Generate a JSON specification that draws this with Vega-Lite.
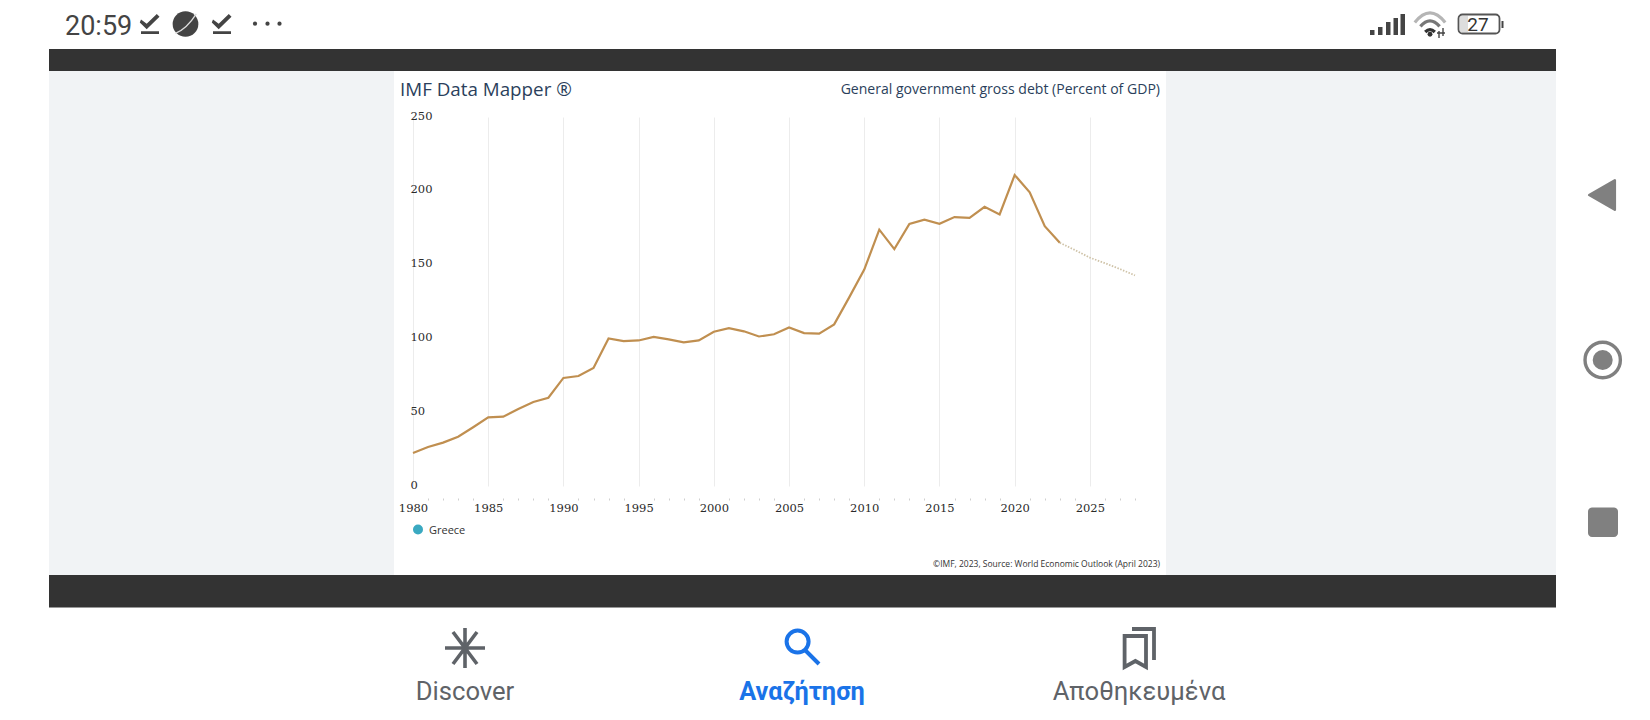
{
"$schema":"https://vega.github.io/schema/vega-lite/v6.json",
"width":722,"height":369,
"autosize":{"type":"none"},
"padding":{"left":413,"top":117,"right":515,"bottom":234},
"background":"#ffffff",
"config":{"view":{"stroke":null}},
"datasets":{
"debt":[
{"year":1980,"debt":22.4},{"year":1981,"debt":26.4},{"year":1982,"debt":29.4},{"year":1983,"debt":33.4},{"year":1984,"debt":39.8},
{"year":1985,"debt":46.5},{"year":1986,"debt":47},{"year":1987,"debt":52.2},{"year":1988,"debt":56.9},{"year":1989,"debt":59.8},
{"year":1990,"debt":73.2},{"year":1991,"debt":74.5},{"year":1992,"debt":80},{"year":1993,"debt":100},{"year":1994,"debt":98.2},
{"year":1995,"debt":98.6},{"year":1996,"debt":101},{"year":1997,"debt":99.3},{"year":1998,"debt":97.3},{"year":1999,"debt":98.6},
{"year":2000,"debt":104.5},{"year":2001,"debt":107},{"year":2002,"debt":104.8},{"year":2003,"debt":101.3},{"year":2004,"debt":102.8},
{"year":2005,"debt":107.4},{"year":2006,"debt":103.6},{"year":2007,"debt":103.2},{"year":2008,"debt":109.5},{"year":2009,"debt":127.8},
{"year":2010,"debt":146.6},{"year":2011,"debt":173.7},{"year":2012,"debt":160.5},{"year":2013,"debt":177.5},{"year":2014,"debt":180.4},
{"year":2015,"debt":177.7},{"year":2016,"debt":182.2},{"year":2017,"debt":181.7},{"year":2018,"debt":189.2},{"year":2019,"debt":184},
{"year":2020,"debt":210.7},{"year":2021,"debt":199},{"year":2022,"debt":176},{"year":2023,"debt":164.8}
],
"projection":[
{"year":2023,"debt":164.8},{"year":2024,"debt":159.9},{"year":2025,"debt":154.7},{"year":2026,"debt":151},{"year":2027,"debt":147},{"year":2028,"debt":142.7}
]},
"resolve":{"scale":{"x":"independent","y":"independent"}},
"layer":[
{
"encoding":{
"x":{"field":"sx","type":"quantitative","axis":null,"scale":{"domain":[0,1650],"range":[-413,1237],"nice":false,"zero":false}},
"y":{"field":"sy","type":"quantitative","axis":null,"scale":{"domain":[0,720],"range":[-117,603],"nice":false,"zero":false}}
},
"layer":[
{"data":{"values":[{"sx":49,"sx2":1556,"sy":49,"sy2":71},{"sx":49,"sx2":1556,"sy":575,"sy2":607.5}]},"mark":{"type":"rect","fill":"#333333"},"encoding":{"x2":{"field":"sx2"},"y2":{"field":"sy2"}}},
{"data":{"values":[{"sx":49,"sx2":394,"sy":71,"sy2":575},{"sx":1166,"sx2":1556,"sy":71,"sy2":575}]},"mark":{"type":"rect","fill":"#f1f3f5"},"encoding":{"x2":{"field":"sx2"},"y2":{"field":"sy2"}}},
{"data":{"values":[{"sx":1370,"sx2":1374.5,"sy":30,"sy2":35},{"sx":1378,"sx2":1382.5,"sy":27,"sy2":35},{"sx":1386,"sx2":1390.5,"sy":22,"sy2":35},{"sx":1393.5,"sx2":1398,"sy":18,"sy2":35},{"sx":1400.5,"sx2":1405,"sy":14,"sy2":35},{"sx":1501.5,"sx2":1503.5,"sy":21,"sy2":28}]},"mark":{"type":"rect","fill":"#444444"},"encoding":{"x2":{"field":"sx2"},"y2":{"field":"sy2"}}},
{"data":{"values":[{"sx":1460,"sx2":1468,"sy":16,"sy2":32}]},"mark":{"type":"rect","fill":"#dddddd"},"encoding":{"x2":{"field":"sx2"},"y2":{"field":"sy2"}}},
{"data":{"values":[{"sx":1458.5,"sx2":1499.5,"sy":14.5,"sy2":33.5}]},"mark":{"type":"rect","fill":null,"stroke":"#555555","strokeWidth":1.8,"cornerRadius":4},"encoding":{"x2":{"field":"sx2"},"y2":{"field":"sy2"}}},
{"data":{"values":[{"sx":1588,"sx2":1618,"sy":507.5,"sy2":537}]},"mark":{"type":"rect","fill":"#808080","cornerRadius":4},"encoding":{"x2":{"field":"sx2"},"y2":{"field":"sy2"}}},

{"data":{"values":[{"sx":150,"sy":24},{"sx":222,"sy":24}]},"mark":{"type":"point","filled":true,"fill":"#444444","stroke":null,"opacity":1,"size":400,"shape":"M-0.9,-0.45 L-0.33,-0.02 L0.68,-1 L0.95,-0.72 L-0.33,0.52 L-1.02,-0.15 Z M-0.9,0.72 H0.9 V1 H-0.9 Z"}},
{"data":{"values":[{"sx":185.5,"sy":24}]},"mark":{"type":"point","filled":true,"fill":"#444444","stroke":null,"opacity":1,"size":660}},
{"data":{"values":[{"sx":185.5,"sy":24}]},"mark":{"type":"point","filled":false,"stroke":"#dddddd","strokeWidth":1.3,"opacity":1,"size":729,"shape":"M-0.75,0.7 Q0.1,0.35 0.8,-0.75"}},
{"data":{"values":[{"sx":255,"sy":23.7},{"sx":267.5,"sy":23.7},{"sx":279.5,"sy":23.7}]},"mark":{"type":"point","filled":true,"fill":"#444444","stroke":null,"opacity":1,"size":18}},

{"data":{"values":[{"sx":1430,"sy":24}]},"mark":{"type":"point","filled":false,"stroke":"#b5b5b5","strokeWidth":3.2,"opacity":1,"size":1024,"shape":"M-0.95,-0.1 Q0,-1.3 0.95,-0.1"}},
{"data":{"values":[{"sx":1430,"sy":24}]},"mark":{"type":"point","filled":false,"stroke":"#777777","strokeWidth":3.2,"opacity":1,"size":1024,"shape":"M-0.6,0.15 Q0,-0.55 0.6,0.15"}},
{"data":{"values":[{"sx":1430,"sy":24}]},"mark":{"type":"point","filled":false,"stroke":"#333333","strokeWidth":3.2,"opacity":1,"size":1024,"shape":"M-0.3,0.5 Q0,0.2 0.3,0.5"}},
{"data":{"values":[{"sx":1430,"sy":34.3}]},"mark":{"type":"point","filled":true,"fill":"#333333","stroke":null,"opacity":1,"size":24}},
{"data":{"values":[{"sx":1441,"sy":33}]},"mark":{"type":"point","filled":false,"stroke":"#444444","strokeWidth":1.4,"opacity":1,"size":100,"shape":"M-0.4,1 V-0.4 M-0.8,0 H0 M0.4,-1 V0.6 M0,0 H0.8"}},

{"data":{"values":[{"sx":1602,"sy":195}]},"mark":{"type":"point","filled":true,"fill":"#808080","stroke":"#808080","strokeWidth":2.5,"strokeJoin":"round","opacity":1,"size":870,"shape":"M-0.87,0 L0.87,-1 V1 Z"}},
{"data":{"values":[{"sx":1602.7,"sy":360}]},"mark":{"type":"point","filled":false,"stroke":"#808080","strokeWidth":3.4,"opacity":1,"size":1250}},
{"data":{"values":[{"sx":1602.7,"sy":360}]},"mark":{"type":"point","filled":true,"fill":"#808080","stroke":null,"opacity":1,"size":400}},

{"data":{"values":[{"sx":465,"sy":648}]},"mark":{"type":"point","filled":false,"stroke":"#5f6368","strokeWidth":3.6,"opacity":1,"size":1600,"shape":"M0,-1 V1 M-1,0 H1 M-0.6,-0.8 L0.6,0.8 M0.6,-0.8 L-0.6,0.8"}},
{"data":{"values":[{"sx":801,"sy":647}]},"mark":{"type":"point","filled":false,"stroke":"#1a73e8","strokeWidth":4,"opacity":1,"size":1600,"shape":"M0.38,-0.27 A0.55,0.55 0 1 1 -0.72,-0.27 A0.55,0.55 0 1 1 0.38,-0.27 M0.2,0.15 L0.9,0.85"}},
{"data":{"values":[{"sx":1139,"sy":648}]},"mark":{"type":"point","filled":false,"stroke":"#5f6368","strokeWidth":3.8,"opacity":1,"size":1600,"shape":"M-0.72,-0.6 H0.35 V0.95 L-0.18,0.65 L-0.72,0.95 Z M-0.35,-0.95 H0.75 V0.6"}},

{"data":{"values":[{"sx":418,"sy":529.5}]},"mark":{"type":"point","filled":true,"fill":"#3aa9c1","stroke":null,"opacity":1,"size":100}},

{"data":{"values":[{"sx":65,"sy":35,"label":"20:59"}]},"mark":{"type":"text","font":"Roboto","fontSize":27,"align":"left","baseline":"alphabetic","fill":"#444444"},"encoding":{"text":{"field":"label"}}},
{"data":{"values":[{"sx":1478,"sy":31,"label":"27"}]},"mark":{"type":"text","font":"Roboto","fontSize":19,"align":"center","baseline":"alphabetic","fill":"#333333"},"encoding":{"text":{"field":"label"}}},
{"data":{"values":[{"sx":400,"sy":96,"label":"IMF Data Mapper ®"}]},"mark":{"type":"text","font":"Open Sans","fontSize":18.8,"align":"left","baseline":"alphabetic","fill":"#2b3f5c"},"encoding":{"text":{"field":"label"}}},
{"data":{"values":[{"sx":1160,"sy":94,"label":"General government gross debt (Percent of GDP)"}]},"mark":{"type":"text","font":"Open Sans","fontSize":14.05,"align":"right","baseline":"alphabetic","fill":"#2b3f5c"},"encoding":{"text":{"field":"label"}}},
{"data":{"values":[{"sx":429,"sy":534,"label":"Greece"}]},"mark":{"type":"text","font":"Open Sans","fontSize":11,"align":"left","baseline":"alphabetic","fill":"#333333"},"encoding":{"text":{"field":"label"}}},
{"data":{"values":[{"sx":1160,"sy":567,"label":"©IMF, 2023, Source: World Economic Outlook (April 2023)"}]},"mark":{"type":"text","font":"Open Sans","fontSize":8.5,"align":"right","baseline":"alphabetic","fill":"#333333"},"encoding":{"text":{"field":"label"}}},
{"data":{"values":[{"sx":465,"sy":700,"label":"Discover"},{"sx":1139,"sy":700,"label":"Αποθηκευμένα"}]},"mark":{"type":"text","font":"Roboto","fontSize":25.6,"align":"center","baseline":"alphabetic","fill":"#5f6368"},"encoding":{"text":{"field":"label"}}},
{"data":{"values":[{"sx":802,"sy":700,"label":"Αναζήτηση"}]},"mark":{"type":"text","font":"Roboto","fontSize":25.3,"fontWeight":"bold","align":"center","baseline":"alphabetic","fill":"#1a73e8"},"encoding":{"text":{"field":"label"}}}
]
},
{
"encoding":{
"x":{"field":"year","type":"quantitative","title":null,"scale":{"domain":[1980,2028],"nice":false,"zero":false},
"axis":{"orient":"bottom","offset":12,"domain":false,"values":[1980,1981,1982,1983,1984,1985,1986,1987,1988,1989,1990,1991,1992,1993,1994,1995,1996,1997,1998,1999,2000,2001,2002,2003,2004,2005,2006,2007,2008,2009,2010,2011,2012,2013,2014,2015,2016,2017,2018,2019,2020,2021,2022,2023,2024,2025,2026,2027,2028],
"labelExpr":"datum.value % 5 === 0 ? '' + datum.value : ''","labelOverlap":false,"labelFlush":false,"labelBound":false,"labelFont":"DejaVu Serif","labelFontSize":11.5,"labelColor":"#2a2a2a","labelPadding":2,"labelBaseline":"top",
"tickSize":2,"tickWidth":1,"tickColor":{"condition":{"test":"datum.value % 5 === 0","value":"transparent"},"value":"#cfcfcf"},
"grid":true,"gridWidth":1,"gridColor":{"condition":{"test":"datum.value % 5 === 0","value":"#ececec"},"value":"transparent"}}},
"y":{"field":"debt","type":"quantitative","title":null,"scale":{"domain":[0,250],"nice":false,"zero":false},
"axis":{"orient":"left","values":[0,50,100,150,200,250],"domain":false,"ticks":false,"grid":false,"labelAlign":"left","labelPadding":3,"labelOffset":-1,"labelFont":"DejaVu Serif","labelFontSize":11.5,"labelColor":"#2a2a2a","labelBound":false,"labelFlush":false}}
},
"layer":[
{"data":{"name":"debt"},"mark":{"type":"line","stroke":"#c08f50","strokeWidth":2.2,"strokeJoin":"miter"}},
{"data":{"name":"projection"},"mark":{"type":"line","stroke":"#cfc3a8","strokeWidth":1.8,"strokeDash":[1.5,1.5]}}
]
}
]
}
